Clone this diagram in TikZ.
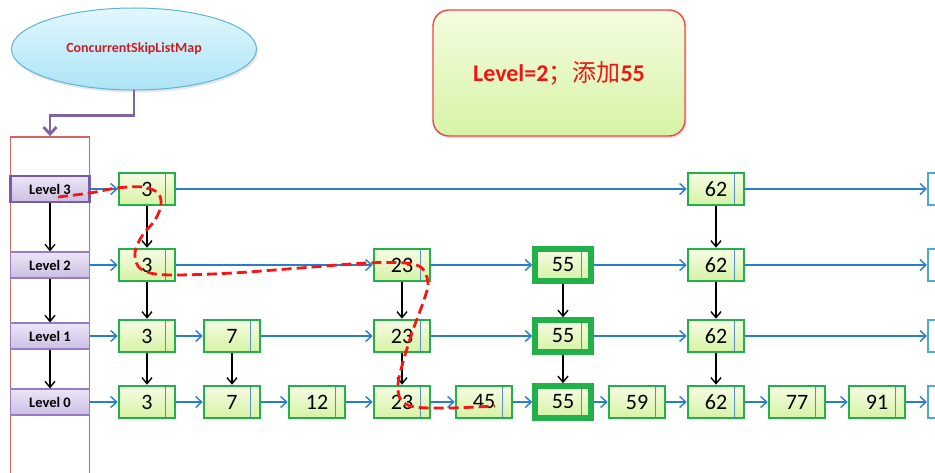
\documentclass[tikz,border=0pt]{standalone}
\usepackage{fontspec}
\setmainfont{Carlito}
\newfontfamily\cjkfont{Noto Sans CJK SC}
\usetikzlibrary{arrows.meta,positioning,shapes.geometric,shadows}
\definecolor{NodeGreen}{RGB}{34,176,75}
\definecolor{NodeTop}{RGB}{246,252,228}
\definecolor{NodeBot}{RGB}{214,242,164}
\definecolor{DivBlue}{RGB}{90,140,205}
\definecolor{ArrowBlue}{RGB}{40,125,205}
\definecolor{TailCyan}{RGB}{75,172,198}
\definecolor{LvPurple}{RGB}{150,125,195}
\definecolor{LvDark}{RGB}{120,92,170}
\definecolor{LvTop}{RGB}{236,230,246}
\definecolor{LvBot}{RGB}{204,190,228}
\definecolor{ColRed}{RGB}{210,100,98}
\definecolor{MapRim}{RGB}{95,180,210}
\definecolor{MapTop}{RGB}{226,247,253}
\definecolor{MapBot}{RGB}{172,228,246}
\definecolor{MapRed}{RGB}{200,30,40}
\definecolor{MapPurple}{RGB}{128,100,162}
\definecolor{NoteTop}{RGB}{244,252,224}
\definecolor{NoteBot}{RGB}{214,244,166}
\definecolor{NoteRed}{RGB}{240,20,20}
\definecolor{SearchRed}{RGB}{250,20,20}
\tikzset{
  keybox/.style={draw=NodeGreen,line width=2.6pt,top color=NodeTop,bottom color=NodeBot,
    minimum width=56pt,minimum height=32pt,inner sep=0pt,
    font=\fontsize{22}{24}\selectfont,
    path picture={\draw[DivBlue,line width=0.8pt]
      ([xshift=-10pt]path picture bounding box.north east) --
      ([xshift=-10pt]path picture bounding box.south east);}},
  newbox/.style={keybox,line width=5.5pt},
  tailbox/.style={draw=TailCyan,line width=2pt,fill=white,minimum width=56pt,
    minimum height=32pt},
  levelbox/.style={draw=LvPurple,line width=1.2pt,top color=LvTop,bottom color=LvBot,
    minimum width=79pt,minimum height=26pt,inner sep=0pt,
    font=\bfseries\fontsize{14.5}{16}\selectfont},
  toplevel/.style={levelbox,draw=LvDark,line width=2.4pt},
  column/.style={draw=ColRed,line width=1.8pt,minimum width=79pt,minimum height=345pt},
  mapnode/.style={ellipse,draw=MapRim,line width=1pt,top color=MapTop,bottom color=MapBot,
    minimum width=245pt,minimum height=82pt,text=MapRed,
    font=\bfseries\fontsize{14}{16}\selectfont,
    drop shadow={opacity=0.2,shadow xshift=1.5pt,shadow yshift=-2.5pt}},
  notebox/.style={draw=NoteRed!80,line width=1.4pt,rounded corners=16pt,
    top color=NoteTop,bottom color=NoteBot,minimum width=252pt,minimum height=126pt,
    text=NoteRed,font=\fontsize{24}{26}\selectfont,
    drop shadow={opacity=0.2,shadow xshift=1.5pt,shadow yshift=-2.5pt}},
  nextarrow/.style={-{Straight Barb[length=6pt,width=11pt]},line width=1.4pt,ArrowBlue},
  downarrow/.style={-{Straight Barb[length=6pt,width=10pt]},line width=1.4pt,black},
  maparrow/.style={-{Straight Barb[length=7pt,width=13pt]},line width=2.8pt,MapPurple},
  searchpath/.style={SearchRed,line width=2.8pt,dash pattern=on 10pt off 5pt}
}

\begin{document}
\begin{tikzpicture}[x=1pt,y=-1pt]
  \useasboundingbox (0,0) rectangle (935,473);
  \clip (0,0) rectangle (935,473);

  % map and note
  \node[mapnode] (map) at (134,49) {ConcurrentSkipListMap};
  \node[notebox] (note) at (559,73) {\bfseries Level=2{\cjkfont\mdseries ；添加}55};

  % head column
  \node[column] (col) at (50,309.5) {};
  \draw[maparrow] (map.south) -- ++(0,25) -| (col.north);
  \node[toplevel] (lv3) at (50,189) {Level 3};
  \node[levelbox] (lv2) at (50,265) {Level 2};
  \node[levelbox] (lv1) at (50,336) {Level 1};
  \node[levelbox] (lv0) at (50,402) {Level 0};
  \draw[downarrow] (lv3) -- (lv2);
  \draw[downarrow] (lv2) -- (lv1);
  \draw[downarrow] (lv1) -- (lv0);

  % level 3
  \node[keybox] (n3-3) at (147,189) {3};
  \node[keybox] (n3-62) at (716,189) {62};
  \node[tailbox] (t3) at (956,189) {};
  % level 2
  \node[keybox] (n2-3) at (147,265) {3};
  \node[keybox] (n2-23) at (402,265) {23};
  \node[newbox] (n2-55) at (563,265) {55};
  \node[keybox] (n2-62) at (716,265) {62};
  \node[tailbox] (t2) at (956,265) {};
  % level 1
  \node[keybox] (n1-3) at (147,336) {3};
  \node[keybox] (n1-7) at (232,336) {7};
  \node[keybox] (n1-23) at (402,336) {23};
  \node[newbox] (n1-55) at (563,336) {55};
  \node[keybox] (n1-62) at (716,336) {62};
  \node[tailbox] (t1) at (956,336) {};
  % level 0
  \node[keybox] (n0-3) at (147,402) {3};
  \node[keybox] (n0-7) at (232,402) {7};
  \node[keybox] (n0-12) at (317,402) {12};
  \node[keybox] (n0-23) at (402,402) {23};
  \node[keybox] (n0-45) at (484,402) {45};
  \node[newbox] (n0-55) at (563,402) {55};
  \node[keybox] (n0-59) at (637,402) {59};
  \node[keybox] (n0-62) at (716,402) {62};
  \node[keybox] (n0-77) at (797,402) {77};
  \node[keybox] (n0-91) at (877,402) {91};
  \node[tailbox] (t0) at (956,402) {};

  % next links
  \draw[nextarrow] (lv3) -- (n3-3);
  \draw[nextarrow] (n3-3) -- (n3-62);
  \draw[nextarrow] (n3-62) -- (t3);
  \draw[nextarrow] (lv2) -- (n2-3);
  \draw[nextarrow] (n2-3) -- (n2-23);
  \draw[nextarrow] (n2-23) -- (n2-55);
  \draw[nextarrow] (n2-55) -- (n2-62);
  \draw[nextarrow] (n2-62) -- (t2);
  \draw[nextarrow] (lv1) -- (n1-3);
  \draw[nextarrow] (n1-3) -- (n1-7);
  \draw[nextarrow] (n1-7) -- (n1-23);
  \draw[nextarrow] (n1-23) -- (n1-55);
  \draw[nextarrow] (n1-55) -- (n1-62);
  \draw[nextarrow] (n1-62) -- (t1);
  \draw[nextarrow] (lv0) -- (n0-3);
  \draw[nextarrow] (n0-3) -- (n0-7);
  \draw[nextarrow] (n0-7) -- (n0-12);
  \draw[nextarrow] (n0-12) -- (n0-23);
  \draw[nextarrow] (n0-23) -- (n0-45);
  \draw[nextarrow] (n0-45) -- (n0-55);
  \draw[nextarrow] (n0-55) -- (n0-59);
  \draw[nextarrow] (n0-59) -- (n0-62);
  \draw[nextarrow] (n0-62) -- (n0-77);
  \draw[nextarrow] (n0-77) -- (n0-91);
  \draw[nextarrow] (n0-91) -- (t0);

  % down links
  \draw[downarrow] (n3-3) -- (n2-3);
  \draw[downarrow] (n2-3) -- (n1-3);
  \draw[downarrow] (n1-3) -- (n0-3);
  \draw[downarrow] (n1-7) -- (n0-7);
  \draw[downarrow] (n2-23) -- (n1-23);
  \draw[downarrow] (n1-23) -- (n0-23);
  \draw[downarrow] (n2-55) -- (n1-55);
  \draw[downarrow] (n1-55) -- (n0-55);
  \draw[downarrow] (n3-62) -- (n2-62);
  \draw[downarrow] (n2-62) -- (n1-62);
  \draw[downarrow] (n1-62) -- (n0-62);

  % search path
  \draw[searchpath] plot[smooth,tension=0.55] coordinates {(58,197) (90,193) (117,188)
    (143,187) (158,193) (161,205) (155,220) (142,236) (135,252) (138,266) (150,273)
    (175,275) (233,273) (300,268) (367,263) (405,263) (422,268) (428,283) (424,300)
    (413,330) (403,362) (398,385) (401,400) (415,407) (450,408) (495,406)};
\end{tikzpicture}
\end{document}
